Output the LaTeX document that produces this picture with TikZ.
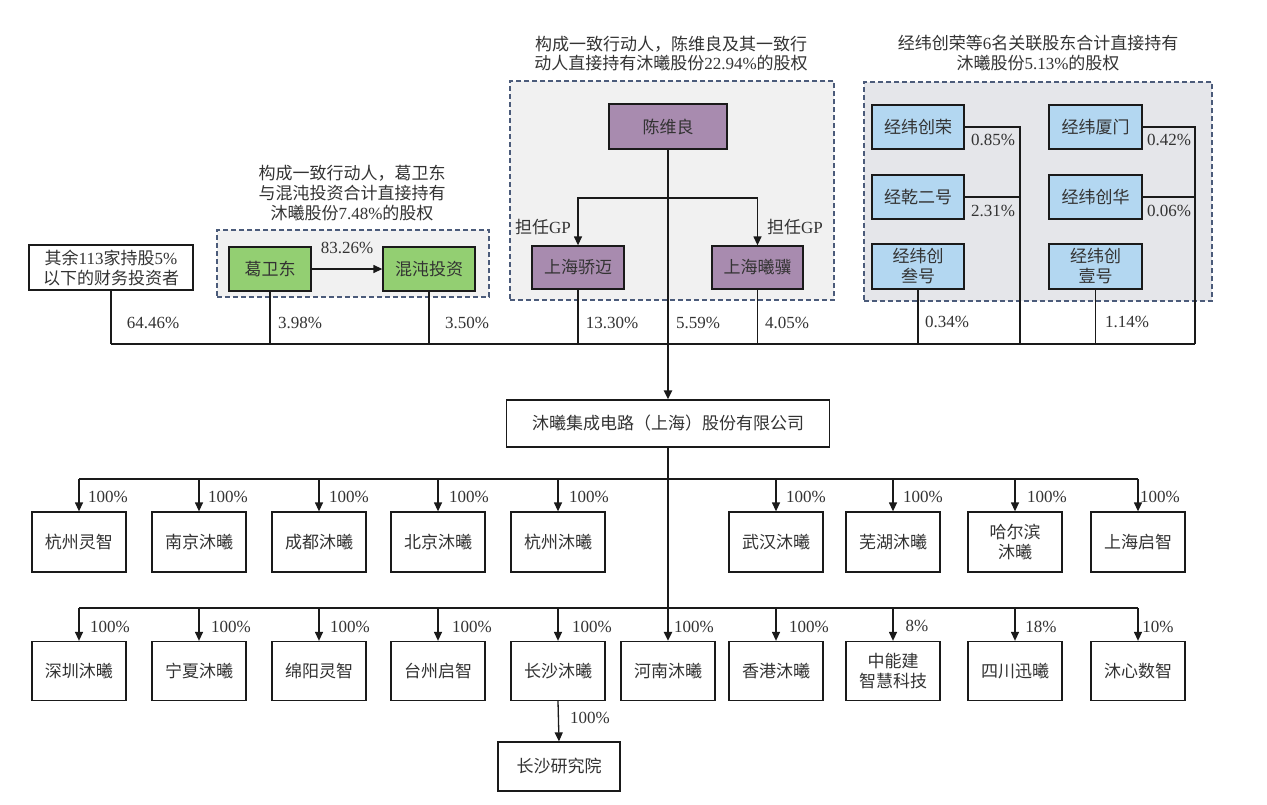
\documentclass[tikz,border=0pt]{standalone}
\usepackage{fontspec}
\setmainfont{Liberation Serif}
\newfontfamily\cjk{Noto Sans CJK SC}
\usetikzlibrary{arrows.meta}
\definecolor{txt}{HTML}{333333}
\definecolor{grn}{HTML}{93CF72}
\definecolor{pur}{HTML}{A88BAF}
\definecolor{blu}{HTML}{B3D7F1}
\definecolor{gfillA}{HTML}{F1F1F1}
\definecolor{gfillB}{HTML}{E5E6EA}
\definecolor{gborder}{HTML}{4B5B7A}
\definecolor{lncol}{HTML}{1A1A1A}
\tikzset{
  bx/.style={draw=lncol, line width=1.3pt, fill=white, inner sep=0pt, align=center,
    font=\cjk\fontsize{17}{20}\selectfont, text=txt},
  gbx/.style={bx, fill=grn},
  pbx/.style={bx, fill=pur},
  bbx/.style={bx, fill=blu},
  pct/.style={font=\rmfamily\fontsize{17}{20}\selectfont, text=txt, inner sep=0pt},
  ttl/.style={font=\cjk\fontsize{17}{20}\selectfont, text=txt, inner sep=0pt, align=center},
  ln/.style={line width=1.3pt, draw=lncol},
  arr/.style={ln, -{Triangle[width=8pt,length=9pt]}},
  trunk/.style={line width=2.2pt, draw=lncol},
  grp/.style={draw=gborder, dash pattern=on 5pt off 3pt, line width=1.3pt, inner sep=0pt}
}
\begin{document}
\begin{tikzpicture}[x=1pt,y=-1pt]
\useasboundingbox (0,0) rectangle (1267,804);
\fill[white] (0,0) rectangle (1267,804);

% group containers
\node[grp, fill=gfillA, minimum width=272, minimum height=67] (g1) at (353,263.5) {};
\node[grp, fill=gfillA, minimum width=324, minimum height=219] (g2) at (672,190.5) {};
\node[grp, fill=gfillB, minimum width=348, minimum height=219] (g3) at (1038,191.5) {};

% titles
\node[ttl, font=\cjk\fontsize{17}{20}\selectfont] (t1) at (352,193) {构成一致行动人，葛卫东\\与混沌投资合计直接持有\\沐曦股份{\rmfamily 7.48\%}的股权};
\node[ttl, font=\cjk\fontsize{17}{19}\selectfont] (t2) at (671,54) {构成一致行动人，陈维良及其一致行\\动人直接持有沐曦股份{\rmfamily 22.94\%}的股权};
\node[ttl, font=\cjk\fontsize{17}{20}\selectfont] (t3) at (1038,53) {经纬创荣等{\rmfamily 6}名关联股东合计直接持有\\沐曦股份{\rmfamily 5.13\%}的股权};

% shareholders
\node[bx, minimum width=164, minimum height=45] (qy) at (111,267.5) {其余{\rmfamily 113}家持股{\rmfamily 5\%}\\以下的财务投资者};
\node[gbx, minimum width=82, minimum height=44] (gwd) at (270,269) {葛卫东};
\node[gbx, minimum width=92, minimum height=44] (hdtz) at (429,269) {混沌投资};
\node[pbx, minimum width=118, minimum height=45] (cwl) at (668,126.5) {陈维良};
\node[pbx, minimum width=92, minimum height=43] (shjm) at (578,267.5) {上海骄迈};
\node[pbx, minimum width=91, minimum height=43] (shxj) at (757.5,267.5) {上海曦骥};
\node[bbx, minimum width=92, minimum height=44] (jwcr) at (918,127) {经纬创荣};
\node[bbx, minimum width=92, minimum height=44] (jqeh) at (918,197) {经乾二号};
\node[bbx, minimum width=92, minimum height=45] (jwcs) at (918,266.5) {经纬创\\叁号};
\node[bbx, minimum width=93, minimum height=44] (jwxm) at (1095.5,127) {经纬厦门};
\node[bbx, minimum width=93, minimum height=44] (jwch) at (1095.5,197) {经纬创华};
\node[bbx, minimum width=93, minimum height=45] (jwcy) at (1095.5,266.5) {经纬创\\壹号};

% company
\node[bx, minimum width=323, minimum height=47] (main) at (668,423.5) {沐曦集成电路（上海）股份有限公司};

% row 1
\node[bx, minimum width=94, minimum height=60] (a1) at (79,542) {杭州灵智};
\node[bx, minimum width=94, minimum height=60] (a2) at (199,542) {南京沐曦};
\node[bx, minimum width=94, minimum height=60] (a3) at (319,542) {成都沐曦};
\node[bx, minimum width=94, minimum height=60] (a4) at (438,542) {北京沐曦};
\node[bx, minimum width=94, minimum height=60] (a5) at (558,542) {杭州沐曦};
\node[bx, minimum width=94, minimum height=60] (a6) at (776,542) {武汉沐曦};
\node[bx, minimum width=94, minimum height=60] (a7) at (893,542) {芜湖沐曦};
\node[bx, minimum width=94, minimum height=60] (a8) at (1015,542) {哈尔滨\\沐曦};
\node[bx, minimum width=94, minimum height=60] (a9) at (1138,542) {上海启智};

% row 2
\node[bx, minimum width=94, minimum height=59] (b1) at (79,671) {深圳沐曦};
\node[bx, minimum width=94, minimum height=59] (b2) at (199,671) {宁夏沐曦};
\node[bx, minimum width=94, minimum height=59] (b3) at (319,671) {绵阳灵智};
\node[bx, minimum width=94, minimum height=59] (b4) at (438,671) {台州启智};
\node[bx, minimum width=94, minimum height=59] (b5) at (558,671) {长沙沐曦};
\node[bx, minimum width=94, minimum height=59] (b6) at (668,671) {河南沐曦};
\node[bx, minimum width=94, minimum height=59] (b7) at (776,671) {香港沐曦};
\node[bx, minimum width=94, minimum height=59] (b8) at (893,671) {中能建\\智慧科技};
\node[bx, minimum width=94, minimum height=59] (b9) at (1015,671) {四川迅曦};
\node[bx, minimum width=94, minimum height=59] (b10) at (1138,671) {沐心数智};
\node[bx, minimum width=122, minimum height=49] (c1) at (559,766.5) {长沙研究院};

% upper bus
\coordinate (busL) at (111,344);
\coordinate (busR) at (1195,344);
\coordinate (jR1) at (1020,344);
\coordinate (gpY) at (668,198);
\draw[trunk] (busL) -- (busR);
\draw[ln] (qy.south) -- (qy.south |- busL);
\draw[ln] (gwd.south) -- (gwd.south |- busL);
\draw[ln] (hdtz.south) -- (hdtz.south |- busL);
\draw[ln] (shjm.south) -- (shjm.south |- busL);
\draw[ln] (shxj.south) -- (shxj.south |- busL);
\draw[ln] (jwcs.south) -- (jwcs.south |- busL);
\draw[ln] (jwcy.south) -- (jwcy.south |- busL);
\draw[ln] (jwcr.east) -| (jR1);
\draw[ln] (jqeh.east) -- (jqeh.east -| jR1);
\draw[ln] (jwxm.east) -| (busR);
\draw[ln] (jwch.east) -- (jwch.east -| busR);
\draw[arr] (gwd.east) -- (hdtz.west);
\draw[arr] (gpY) -| (shjm.north);
\draw[arr] (gpY) -| (shxj.north);
\draw[trunk, -{Triangle[width=8pt,length=9pt]}] (cwl.south) -- (main.north);

% lower buses
\coordinate (r1) at (0,479);
\coordinate (r2) at (0,608);
\draw[ln] (a1.north |- r1) -- (a9.north |- r1);
\draw[ln] (b1.north |- r2) -- (b10.north |- r2);
\draw[trunk, -{Triangle[width=8pt,length=9pt]}] (main.south) -- (b6.north);
\foreach \n in {a1,a2,a3,a4,a5,a6,a7,a8,a9}{
  \draw[arr] (\n.north |- r1) -- (\n.north);
}
\foreach \n in {b1,b2,b3,b4,b5,b7,b8,b9,b10}{
  \draw[arr] (\n.north |- r2) -- (\n.north);
}
\draw[arr] (b5.south) -- (c1.north);

% labels upper
\node[pct] (l1) at (153,323) {64.46\%};
\node[pct] (l2) at (300,323) {3.98\%};
\node[pct] (l3) at (467,323) {3.50\%};
\node[pct] (l4) at (612,323) {13.30\%};
\node[pct] (l5) at (698,323) {5.59\%};
\node[pct] (l6) at (787,323) {4.05\%};
\node[pct] (l7) at (947,322) {0.34\%};
\node[pct] (l8) at (1127,322) {1.14\%};
\node[pct] (l9) at (993,140) {0.85\%};
\node[pct] (l10) at (993,211) {2.31\%};
\node[pct] (l11) at (1169,140) {0.42\%};
\node[pct] (l12) at (1169,211) {0.06\%};
\node[pct] (l13) at (347,248) {83.26\%};
\node[ttl] (gp1) at (543,227) {担任{\rmfamily GP}};
\node[ttl] (gp2) at (795,227) {担任{\rmfamily GP}};

% labels row 1
\node[pct] (p1) at (108,497) {100\%};
\node[pct] (p2) at (228,497) {100\%};
\node[pct] (p3) at (349,497) {100\%};
\node[pct] (p4) at (469,497) {100\%};
\node[pct] (p5) at (589,497) {100\%};
\node[pct] (p6) at (806,497) {100\%};
\node[pct] (p7) at (923,497) {100\%};
\node[pct] (p8) at (1047,497) {100\%};
\node[pct] (p9) at (1160,497) {100\%};
% labels row 2
\node[pct] (q1) at (110,627) {100\%};
\node[pct] (q2) at (231,627) {100\%};
\node[pct] (q3) at (350,627) {100\%};
\node[pct] (q4) at (472,627) {100\%};
\node[pct] (q5) at (592,627) {100\%};
\node[pct] (q6) at (694,627) {100\%};
\node[pct] (q7) at (809,627) {100\%};
\node[pct] (q8) at (917,626) {8\%};
\node[pct] (q9) at (1041,627) {18\%};
\node[pct] (q10) at (1158,627) {10\%};
\node[pct] (q11) at (590,718) {100\%};
\end{tikzpicture}
\end{document}
